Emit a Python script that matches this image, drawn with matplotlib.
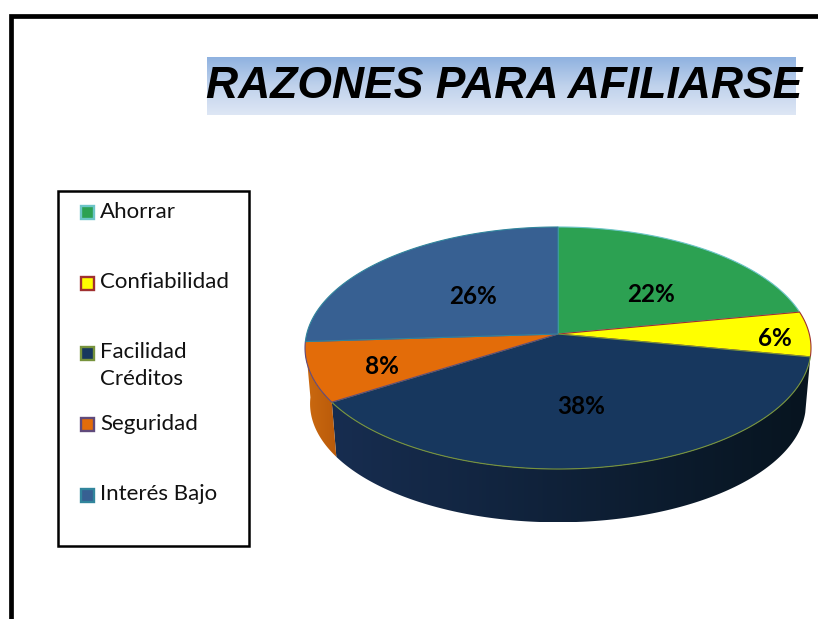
import numpy as np
import matplotlib
matplotlib.use("Agg")
import matplotlib.pyplot as plt
from matplotlib.patches import Polygon, Rectangle
from matplotlib.colors import LinearSegmentedColormap

# ---- data ----
title = "RAZONES PARA AFILIARSE"
categories = ["Ahorrar", "Confiabilidad", "Facilidad\nCréditos", "Seguridad", "Interés Bajo"]
values = [22, 6, 38, 8, 26]
face_colors = ["#2CA152", "#FFFF00", "#17375E", "#E36C09", "#376092"]
edge_colors = ["#6CC5C8", "#A03030", "#77933C", "#604A7B", "#31859C"]
label_xy = [(651, 295), (775, 338), (581, 407), (382, 366), (473, 296)]
legend_y = [212, 283, 353, 424, 495]

# ---- layout (pixel coordinates) ----
W, H = 818, 619
CX, CY = 558, 334
A, B, K = 251.3, 119.4, 0.1157
DEPTH, SHRINK = 56, 0.98

fig = plt.figure(figsize=(W / 100, H / 100), dpi=100, facecolor="white")
ax = fig.add_axes([0, 0, 1, 1])
ax.set_axis_off()


def rim(deg0, deg1, bottom=False):
    t = np.radians(np.linspace(deg0, deg1, max(int(abs(deg1 - deg0) * 2), 2)))
    u, v = np.sin(t), np.cos(t)
    x = A * u / (1 + K * v)
    y = -B * v / (1 + K * v)
    if bottom:
        return np.column_stack([CX + SHRINK * x, CY + DEPTH + SHRINK * y])
    return np.column_stack([CX + x, CY + y])


def gradient_patch(pts, c0, c1, x0, x1, edge=None):
    cmap = LinearSegmentedColormap.from_list("g", [c0, c1])
    y0, y1 = pts[:, 1].min(), pts[:, 1].max()
    im = ax.imshow(np.linspace(0, 1, 256)[None, :], extent=(x0, x1, y1, y0),
                   cmap=cmap, aspect="auto", zorder=2)
    clip = Polygon(pts, closed=True, transform=ax.transData, fc="none", ec="none")
    ax.add_patch(clip)
    im.set_clip_path(clip)


# outer frame
ax.plot([10.5, 10.5, W + 5], [H + 5, 15.5, 15.5], color="black", lw=3.4,
        solid_joinstyle="miter", zorder=1)

# title banner
banner = ax.imshow(np.linspace(0, 1, 256)[:, None], extent=(207, 796, 115, 57),
                   cmap=LinearSegmentedColormap.from_list("b", ["#8FB2E0", "#C0D2EC", "#DEE7F5"]),
                   aspect="auto", zorder=1)
ax.text(504.5, 87, title, family="Liberation Sans", weight="bold", style="italic",
        fontsize=32, ha="center", va="center", color="black", zorder=3)

# legend box
ax.add_patch(Rectangle((58, 191), 191, 355, fc="white", ec="black", lw=1.8, zorder=1))
for name, y, fc, ec in zip(categories, legend_y, face_colors, edge_colors):
    ax.add_patch(Rectangle((80.5, y - 6.5), 13.5, 13.5, fc=fc, ec=ec, lw=1.7, zorder=3))
    ax.text(100, y - 10.5, name, family="Lato", fontsize=16, ha="left", va="top",
            color="#111111", linespacing=1.42, zorder=3)

# pie
cum = np.concatenate([[0], np.cumsum(values)]) / sum(values) * 360
starts, ends = cum[:-1], cum[1:]

# side walls (navy and orange are the visible ones)
side_styles = {2: ("#172D50", "#07141F"), 3: ("#CC6A10", "#B95A0A")}
for i, (c0, c1) in side_styles.items():
    top = rim(starts[i], ends[i])
    bot = rim(starts[i], ends[i], bottom=True)
    pts = np.vstack([top, bot[::-1]])
    x0, x1 = pts[:, 0].min(), pts[:, 0].max()
    gradient_patch(pts, c0, c1, x0, x1)

# top face
for s, e, fc, ec in zip(starts, ends, face_colors, edge_colors):
    pts = np.vstack([[CX, CY], rim(s, e)])
    ax.add_patch(Polygon(pts, closed=True, fc=fc, ec=ec, lw=0.8, zorder=4))

for val, (x, y) in zip(values, label_xy):
    ax.text(x, y, f"{val}%", family="Lato", weight="bold", fontsize=17.5,
            ha="center", va="center", color="black", zorder=5)

ax.set_xlim(0, W)
ax.set_ylim(H, 0)
fig.savefig("out.png", dpi=100)
